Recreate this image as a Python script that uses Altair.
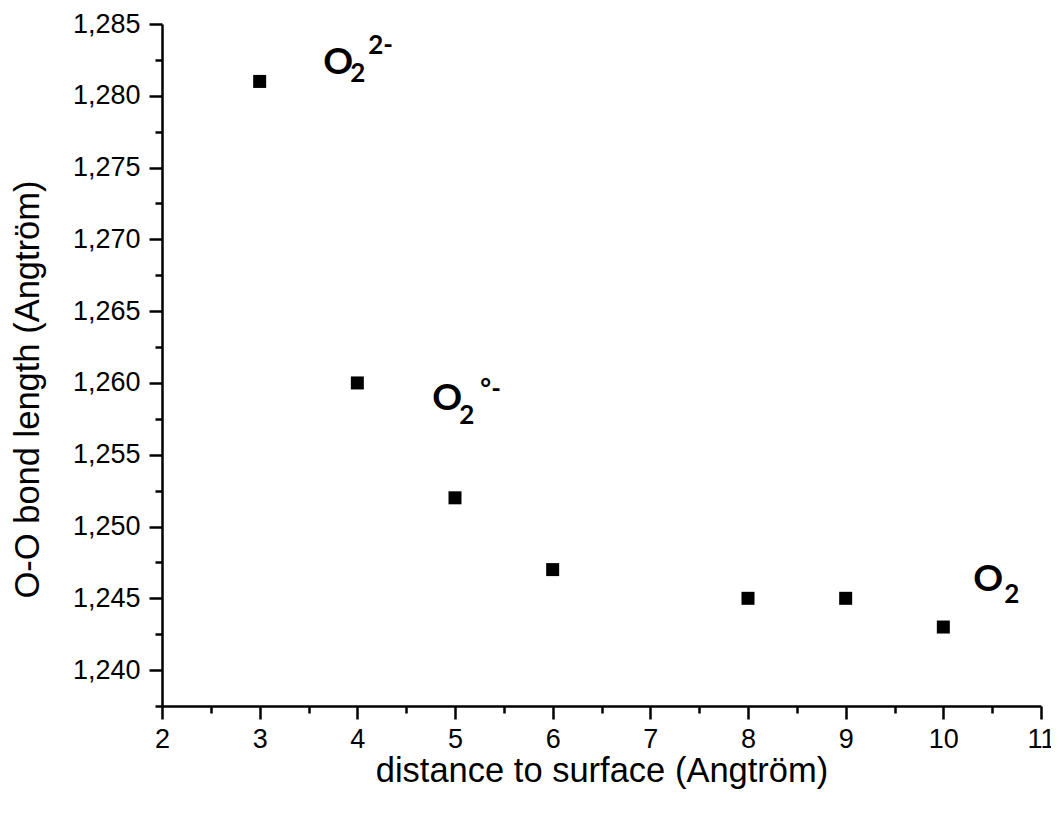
import altair as alt
import pandas as pd

# data points
dist = [3, 4, 5, 6, 8, 9, 10]
bond = [1.281, 1.260, 1.252, 1.247, 1.245, 1.245, 1.243]

# annotation anchors (left edge / baseline of the big "O"), data coords
lab_x = [3.651, 4.768, 10.307]
lab_y = [1.28154, 1.2581, 1.24554]
lab_main = ["O", "O", "O"]
lab_sub = ["2", "2", "2"]
lab_sup = ["2-", "°-", ""]
# pixel offsets of subscript / superscript pieces relative to anchor
sub_off = [(27, 8), (27, 14), (31, 12)]
sup_off = [(45, -20), (48, -12), (0, 0)]

x_major = [2, 3, 4, 5, 6, 7, 8, 9, 10, 11]
x_minor = [2.5, 3.5, 4.5, 5.5, 6.5, 7.5, 8.5, 9.5, 10.5]
y_major = [1.240, 1.245, 1.250, 1.255, 1.260, 1.265, 1.270, 1.275, 1.280, 1.285]
y_minor = [1.2375, 1.2425, 1.2475, 1.2525, 1.2575, 1.2625, 1.2675, 1.2725, 1.2775, 1.2825]

X_DOM = [2, 11]
Y_DOM = [1.2375, 1.285]

pts = pd.DataFrame({"x": dist, "y": bond})

xscale = alt.Scale(domain=X_DOM, nice=False, zero=False)
yscale = alt.Scale(domain=Y_DOM, nice=False, zero=False)

x_axis = alt.Axis(
    title="distance to surface (Angtröm)",
    orient="bottom",
    values=x_major,
    format="d",
    tickSize=13,
    labelOverlap=False,
    labelFlush=False,
    labelPadding=7,
    titlePadding=2,
)
y_axis = alt.Axis(
    title="O-O bond length (Angtröm)",
    orient="left",
    values=y_major,
    labelExpr="replace(format(datum.value, '.3f'), '.', ',')",
    tickSize=13,
    labelOverlap=False,
    labelFlush=False,
    labelPadding=9,
    titlePadding=27,
    titleY=365,
)
x_axis_minor = alt.Axis(title=None, orient="bottom", values=x_minor, tickSize=7,
                        labels=False, domain=False)
y_axis_minor = alt.Axis(title=None, orient="left", values=y_minor, tickSize=7,
                        labels=False, domain=False)

points = alt.Chart(pts).mark_point(
    shape="square", filled=True, color="black", size=169, opacity=1
).encode(
    x=alt.X("x:Q", scale=xscale, axis=x_axis),
    y=alt.Y("y:Q", scale=yscale, axis=y_axis),
)

minor = alt.Chart(pts).mark_point(opacity=0).encode(
    x=alt.X("x:Q", scale=xscale, axis=x_axis_minor),
    y=alt.Y("y:Q", scale=yscale, axis=y_axis_minor),
)

layers = [points, minor]
FONT = "Lato"
for i in range(3):
    d = pd.DataFrame({"x": [lab_x[i]], "y": [lab_y[i]], "t": [lab_main[i]],
                      "s": [lab_sub[i]], "p": [lab_sup[i]]})
    base = alt.Chart(d)
    enc = dict(x=alt.X("x:Q", scale=xscale, axis=None), y=alt.Y("y:Q", scale=yscale, axis=None))
    layers.append(base.mark_text(font=FONT, fontWeight="bold", fontSize=37, align="left",
                                 baseline="alphabetic", color="black").encode(text="t:N", **enc))
    layers.append(base.mark_text(font=FONT, fontWeight="bold", fontSize=26, align="left",
                                 baseline="alphabetic", color="black",
                                 dx=sub_off[i][0], dy=sub_off[i][1]).encode(text="s:N", **enc))
    if lab_sup[i]:
        layers.append(base.mark_text(font=FONT, fontWeight="bold", fontSize=26, align="left",
                                     baseline="alphabetic", color="black",
                                     dx=sup_off[i][0], dy=sup_off[i][1]).encode(text="p:N", **enc))

chart = alt.layer(*layers).resolve_axis(x="independent", y="independent").properties(
    width=879,
    height=682,
    autosize=alt.AutoSizeParams(type="none"),
    padding={"left": 154, "top": 16, "right": 10, "bottom": 95},
).configure_view(stroke=None).configure_axis(
    grid=False,
    domainColor="black",
    domainWidth=2.5,
    tickColor="black",
    tickWidth=2.5,
    labelFont="Liberation Sans",
    labelFontSize=27,
    labelColor="black",
    titleFont="Liberation Sans",
    titleFontSize=34.5,
    titleFontWeight="normal",
    titleColor="black",
)

chart.save("out.html", embed_options={"renderer": "svg", "actions": False})
